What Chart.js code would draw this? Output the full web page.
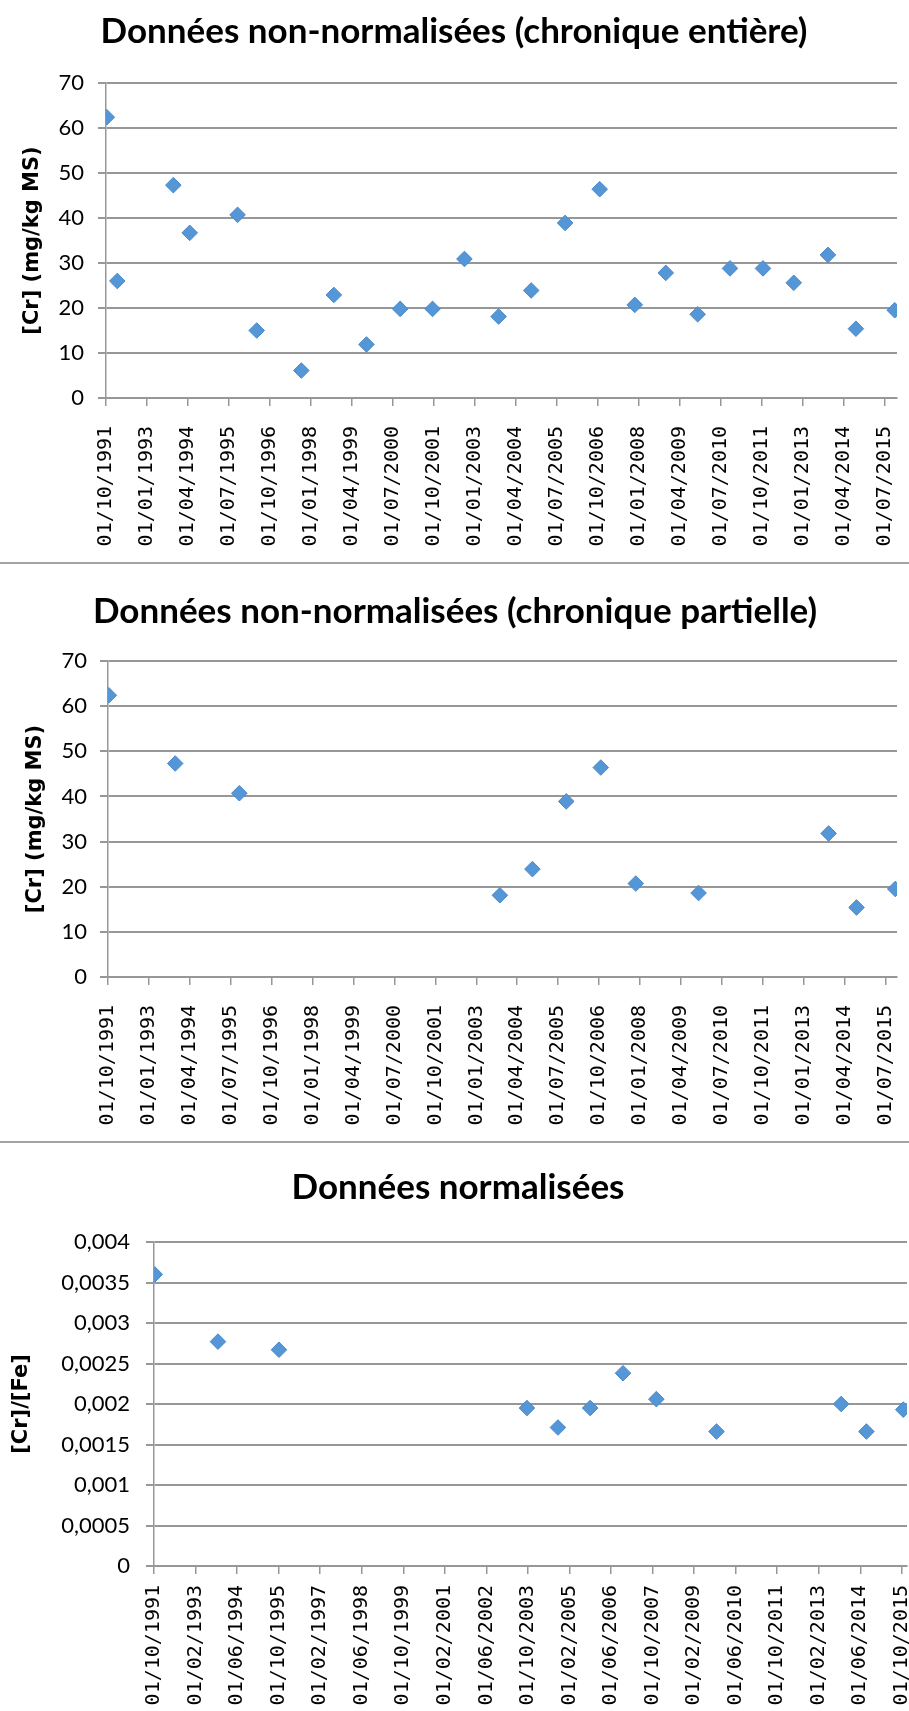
<!DOCTYPE html>
<html>
<head>
<meta charset="utf-8">
<script src="https://cdn.jsdelivr.net/npm/chart.js@4.4.1/dist/chart.umd.min.js"></script>
<style>
  html, body { margin: 0; padding: 0; background: #fff; overflow: hidden; }
  #page { position: relative; width: 909px; height: 1711px; overflow: hidden; }
  canvas { position: absolute; left: 0; }
  .sep { position: absolute; left: 0; width: 909px; height: 2px; background: #a3a3a3; }
</style>
</head>
<body>
<div id="page">
  <canvas id="chartFull" width="940" height="561" style="top:0"></canvas>
  <div class="sep" style="top:562px"></div>
  <canvas id="chartPartial" width="940" height="575" style="top:565px"></canvas>
  <div class="sep" style="top:1141px"></div>
  <canvas id="chartNorm" width="940" height="600" style="top:1144px"></canvas>
</div>
<script>
// sampling dates and values
const datesFull = ['1991-10-10', '1992-02-05', '1993-10-20', '1994-04-20', '1995-10-05',
  '1996-05-05', '1997-09-15', '1998-09-12', '1999-09-10', '2000-09-20', '2001-09-15',
  '2002-09-05', '2003-09-20', '2004-09-18', '2005-09-30', '2006-10-20', '2007-11-15',
  '2008-10-25', '2009-10-15', '2010-10-10', '2011-10-12', '2012-09-20', '2013-10-05',
  '2014-08-12', '2015-10-18']
const crFull = [62.4, 26.0, 47.3, 36.7, 40.7, 15.0, 6.1, 22.9, 11.9, 19.8, 19.8, 30.9,
  18.1, 23.9, 38.9, 46.4, 20.7, 27.8, 18.6, 28.8, 28.8, 25.6, 31.8, 15.4, 19.5]

const datesPartial = ['1991-10-10', '1993-10-20', '1995-10-05', '2003-09-20', '2004-09-18',
  '2005-09-30', '2006-10-20', '2007-11-15', '2009-10-15', '2013-10-05', '2014-08-12', '2015-10-18']
const crPartial = [62.4, 47.3, 40.7, 18.1, 23.9, 38.9, 46.4, 20.7, 18.6, 31.8, 15.4, 19.5]

const datesNorm = ['1991-10-10', '1993-10-20', '1995-10-05', '2003-09-20', '2004-09-18',
  '2005-09-30', '2006-10-20', '2007-11-15', '2009-10-20', '2013-10-20', '2014-08-12', '2015-10-18']
const crFeNorm = [0.0036, 0.00277, 0.00267, 0.00195, 0.00171, 0.00195, 0.00238, 0.00206,
  0.00166, 0.0020, 0.00166, 0.00193]

const gridColor = '#979797'
const markerColor = '#5596d6'

// months since 01/10/1991 (start of the date axis)
const toMonths = str => {
  const [y, m, d] = str.split('-').map(Number)
  return (y - 1991) * 12 + (m - 10) + (d - 1) / 30
}

// tick label 01/MM/YYYY for a month offset
const monthLabel = k => {
  const total = 9 + Math.round(k)
  const year = 1991 + Math.floor(total / 12)
  const month = String(total % 12 + 1).padStart(2, '0')
  return '01/' + month + '/' + year
}

const makeChart = (id, o) => {
  const ctx = document.getElementById(id).getContext('2d')
  const points = o.dates.map((d, i) => ({ x: toMonths(d), y: o.values[i] }))
  return new Chart(ctx, {
    type: 'scatter',
    data: {
      datasets: [{
        data: points,
        pointStyle: 'rectRot',
        pointRadius: 7.8,
        backgroundColor: markerColor,
        borderColor: '#4a8acb',
        borderWidth: 1
      }]
    },
    options: {
      responsive: false,
      animation: false,
      layout: { padding: { left: o.padLeft, right: o.padRight, top: 0, bottom: 0 } },
      plugins: {
        legend: { display: false },
        tooltip: { enabled: false },
        title: {
          display: true,
          text: o.title,
          color: '#000',
          font: { family: 'Lato', size: 35, weight: 'bold' },
          padding: { top: o.titleTop, bottom: o.titleBottom }
        }
      },
      scales: {
        x: {
          type: 'linear',
          min: 0,
          max: o.xMax,
          afterBuildTicks: axis => {
            const ticks = []
            for (let v = 0; v <= o.xMax; v += o.step) ticks.push({ value: v })
            axis.ticks = ticks
          },
          afterFit: axis => { axis.height = o.xHeight },
          ticks: {
            autoSkip: false,
            minRotation: 90,
            maxRotation: 90,
            padding: o.xPad,
            color: '#000',
            font: { family: 'DejaVu Sans Mono', size: 20 },
            callback: v => monthLabel(v)
          },
          grid: { drawOnChartArea: false, drawTicks: true, tickLength: 8, color: gridColor, lineWidth: 1.5 },
          border: { display: true, color: gridColor, width: 2 }
        },
        y: {
          min: 0,
          max: o.yMax,
          afterFit: axis => { axis.width = o.yWidth },
          ticks: {
            stepSize: o.yStep,
            padding: o.yPad,
            color: '#000',
            font: { family: 'Lato', size: 22 },
            callback: o.yFormat
          },
          grid: { color: gridColor, lineWidth: 2, tickLength: 8 },
          border: { display: true, color: gridColor, width: 1.5 },
          title: {
            display: true,
            text: o.yTitle,
            color: '#000',
            font: { family: 'DejaVu Sans', size: 21, weight: 'bold' },
            padding: { top: o.yTitleTop, bottom: 0 }
          }
        }
      }
    }
  })
}

const plainNumber = v => String(v)
const commaNumber = v => String(+v.toFixed(4)).replace('.', ',')

makeChart('chartFull', {
  title: 'Données non-normalisées (chronique entière)',
  dates: datesFull, values: crFull,
  xMax: 289.4, step: 15, xHeight: 163, xPad: 20, padLeft: 11, padRight: 43,
  titleTop: 11, titleBottom: 30,
  yMax: 70, yStep: 10, yWidth: 95, yPad: 14, yFormat: plainNumber,
  yTitle: '[Cr] (mg/kg MS)', yTitleTop: 9.4
})

makeChart('chartPartial', {
  title: 'Données non-normalisées (chronique partielle)',
  dates: datesPartial, values: crPartial,
  xMax: 289.2, step: 15, xHeight: 163, xPad: 20, padLeft: 13, padRight: 43,
  titleTop: 26, titleBottom: 28,
  yMax: 70, yStep: 10, yWidth: 95, yPad: 13, yFormat: plainNumber,
  yTitle: '[Cr] (mg/kg MS)', yTitleTop: 9.9
})

makeChart('chartNorm', {
  title: 'Données normalisées',
  dates: datesNorm, values: crFeNorm,
  xMax: 290, step: 16, xHeight: 178, xPad: 11, padLeft: 9, padRight: 33,
  titleTop: 23, titleBottom: 33,
  yMax: 0.004, yStep: 0.0005, yWidth: 145, yPad: 16, yFormat: commaNumber,
  yTitle: '[Cr]/[Fe]', yTitleTop: 0
})
</script>
</body>
</html>
